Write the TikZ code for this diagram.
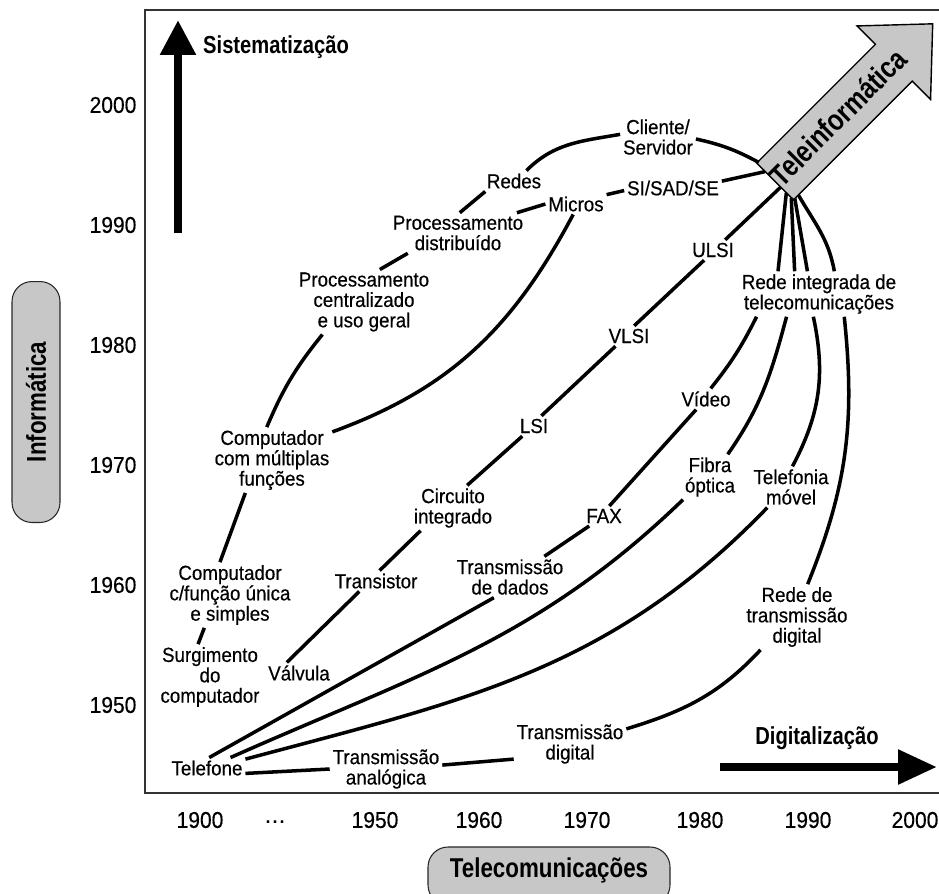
\documentclass[tikz,border=0pt]{standalone}
\usepackage{fontspec}
\setmainfont{Liberation Sans}[FakeStretch=0.92, FakeBold=0.4]
\newfontfamily\headfont{Liberation Sans}[FakeStretch=0.82]
\usetikzlibrary{arrows.meta}
\begin{document}
\begin{tikzpicture}[x=0.02cm, y=0.02cm]
        \tikzstyle{lbl}=[align=center, inner sep=1.5pt, font=\fontsize{11.6}{11.6}\selectfont]
        \tikzstyle{conn}=[line width=2pt]
        \tikzstyle{yr}=[font=\fontsize{13}{14}\selectfont]
        \tikzstyle{titulo}=[font=\headfont\bfseries\fontsize{14}{16}\selectfont]
        \tikzstyle{caixa}=[draw=black!85, fill=black!22, line width=0.6pt, rounded corners=0.4cm]
        \tikzstyle{eixo}=[line width=0.17cm]
        \useasboundingbox (0,0) rectangle (939,-893);
        % moldura
        \draw[line width=1pt, black!80] (939,-10) -- (145,-10) -- (145,-793) -- (939,-793);
        % anos
        \foreach \ano/\y in {2000/105, 1990/225, 1980/345, 1970/465, 1960/585, 1950/705}
            \node[yr] (v\ano) at (113,-\y) {\ano};
        \foreach \ano/\x in {1900/200, 1950/375, 1960/479, 1970/587, 1980/700, 1990/808, 2000/915}
            \node[yr] (h\ano) at (\x,-820) {\ano};
        \node[yr] (reticencias) at (275,-824) {···};
        % eixos
        \node[caixa, rotate=90, minimum width=4.82cm, minimum height=0.96cm,
              font=\headfont\bfseries\fontsize{15.5}{17}\selectfont] (info) at (36,-402) {Informática};
        \draw[caixa] (428,-847) rectangle (670,-905);
        \node[font=\headfont\bfseries\fontsize{15.5}{17}\selectfont] (telecom) at (549,-870) {Telecomunicações};
        \draw[eixo, -{Triangle[width=0.68cm, length=0.7cm]}] (178,-233) -- (178,-20);
        \node[titulo, anchor=west] (sist) at (197,-47) {Sistematização};
        \draw[eixo, -{Triangle[width=0.66cm, length=0.78cm]}] (720,-767) -- (937,-767);
        \node[titulo] (digit) at (817,-738) {Digitalização};
        % seta teleinformatica
        \begin{scope}[shift={(775,-181.5)}, rotate=45]
            \filldraw[fill=black!22, draw=black, line width=0.8pt]
                (0,26) -- (168,26) -- (168,52) -- (223,0) -- (168,-52) -- (168,-26) -- (0,-26) -- cycle;
            \node[font=\headfont\bfseries\fontsize{17}{19}\selectfont, rotate=45] (teleinfo) at (90,1) {Teleinformática};
            \coordinate (tA) at (2,25);
            \coordinate (tB) at (0,14);
            \coordinate (tC) at (0,-8);
            \coordinate (tD) at (0,-16);
            \coordinate (tE) at (0,-23);
            \coordinate (tF) at (2,-26);
            \coordinate (tG) at (7,-26);
        \end{scope}
        % informatica
        \node[lbl] (surg) at (210,-677) {Surgimento\\do\\computador};
        \node[lbl] (cfunc) at (230,-595) {Computador\\c/função única\\e simples};
        \node[lbl] (cmult) at (272,-460) {Computador\\com múltiplas\\funções};
        \node[lbl] (pcent) at (364,-302) {Processamento\\centralizado\\e uso geral};
        \node[lbl] (pdist) at (458,-233) {Processamento\\distribuído};
        \node[lbl] (redes) at (514,-181) {Redes};
        \node[lbl] (micros) at (576,-204) {Micros};
        \node[lbl] (cliente) at (658,-137) {Cliente/\\Servidor};
        \node[lbl] (sisad) at (673,-188) {SI/SAD/SE};
        % componentes
        \node[lbl] (valv) at (299,-673) {Válvula};
        \node[lbl] (trans) at (376,-581) {Transistor};
        \node[lbl] (circ) at (453,-508) {Circuito\\integrado};
        \node[lbl] (lsi) at (534,-426) {LSI};
        \node[lbl] (vlsi) at (629,-336) {VLSI};
        \node[lbl] (ulsi) at (713,-250) {ULSI};
        % telecomunicacoes
        \node[lbl] (tel) at (207,-768) {Telefone};
        \node[lbl] (tanal) at (386,-769) {Transmissão\\analógica};
        \node[lbl] (tdig) at (570,-744) {Transmissão\\digital};
        \node[lbl] (tdados) at (510,-577) {Transmissão\\de dados};
        \node[lbl] (fax) at (604,-516) {FAX};
        \node[lbl] (video) at (706,-399) {Vídeo};
        \node[lbl] (fibra) at (710,-477) {Fibra\\óptica};
        \node[lbl] (tmov) at (791,-487) {Telefonia\\móvel};
        \node[lbl] (rtd) at (797,-617) {Rede de\\transmissão\\digital};
        \node[lbl] (rint) at (819,-294) {Rede integrada de\\telecomunicações};
        % ligacoes
        \draw[conn] (surg.110) -- (cfunc.232);
        \draw[conn] (cfunc.107) -- (cmult.231);
        \draw[conn] (cmult.99) to[bend left=8] (pcent.218);
        \draw[conn] (pcent.64) -- (pdist.202);
        \draw[conn] (pdist.85) -- (redes.200);
        \draw[conn] (redes.40) to[out=45, in=190] (cliente.176);
        \draw[conn] (cliente.-3) to[bend left=8] (tA);
        \draw[conn] (pdist.19) -- (micros.180);
        \draw[conn] (micros.17) -- (sisad.183);
        \draw[conn] (sisad.8) -- (tB);
        \draw[conn] (cmult.25) to[out=20, in=242] (micros.255);
        \draw[conn] (valv.139) -- (trans.212);
        \draw[conn] (trans.71) -- (circ.215);
        \draw[conn] (circ.58) -- (lsi.221);
        \draw[conn] (lsi.54) -- (vlsi.217);
        \draw[conn] (vlsi.63) -- (ulsi.229);
        \draw[conn] (ulsi.40) -- (tC);
        \draw[conn] (tel.78) -- (tdados.232);
        \draw[conn] (tdados.31) -- (fax.214);
        \draw[conn] (fax.62) -- (video.227);
        \draw[conn] (video.66) to[bend right=6] (rint.200);
        \draw[conn] (tel.24) to[out=24, in=224] (fibra.220);
        \draw[conn] (fibra.52) to[out=55, in=255] (rint.215);
        \draw[conn] (tel.13) to[out=15, in=226] (tmov.221);
        \draw[conn] (tmov.86) to[bend right=20] (rint.256);
        \draw[conn] (tel.-8) -- (tanal.180);
        \draw[conn] (tanal.4) -- (tdig.195);
        \draw[conn] (tdig.15) to[out=17, in=227] (rtd.222);
        \draw[conn] (rtd.72) to[out=68, in=276] (rint.318);
        \draw[conn] (rint.151) -- (tD);
        \draw[conn] (rint.137) -- (tE);
        \draw[conn] (rint.117) -- (tF);
        \draw[conn] (rint.56) to[out=100, in=-60] (tG);
\end{tikzpicture}
\end{document}
